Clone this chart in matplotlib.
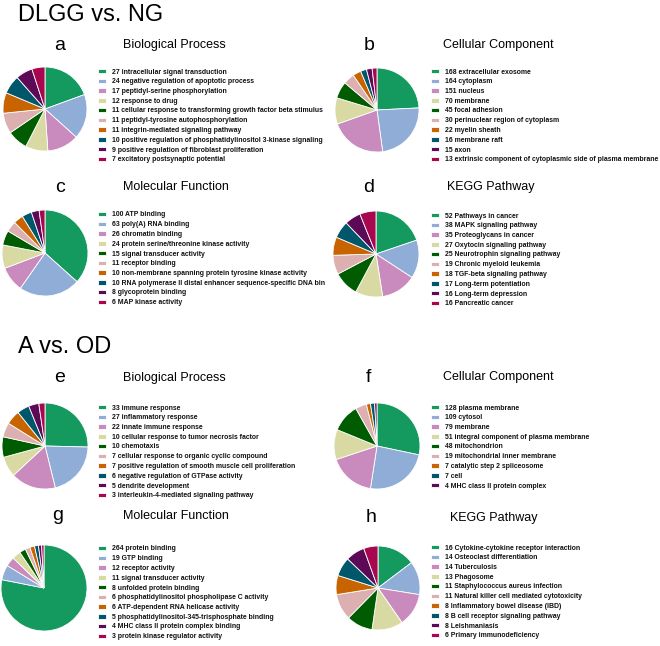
import matplotlib
matplotlib.use('Agg')
import matplotlib.pyplot as plt

plt.rcParams['font.family'] = ['Liberation Sans', 'DejaVu Sans']

# paleta comun de los sectores
colores = ['#14995f', '#8fadd6', '#c98bbd', '#d9d9a3', '#005c00',
           '#dcb0b0', '#c76400', '#00566b', '#5c0a57', '#a8074f']

# a) DLGG vs NG - Biological Process
bp1_n = [27, 24, 17, 12, 11, 11, 11, 10, 9, 7]
bp1_t = ['intracellular signal transduction',
         'negative regulation of apoptotic process',
         'peptidyl-serine phosphorylation',
         'response to drug',
         'cellular response to transforming growth factor beta stimulus',
         'peptidyl-tyrosine autophosphorylation',
         'integrin-mediated signaling pathway',
         'positive regulation of phosphatidylinositol 3-kinase signaling',
         'positive regulation of fibroblast proliferation',
         'excitatory postsynaptic potential']

# b) Cellular Component
cc1_n = [168, 164, 151, 70, 45, 30, 22, 16, 15, 13]
cc1_t = ['extracellular exosome', 'cytoplasm', 'nucleus', 'membrane',
         'focal adhesion', 'perinuclear region of cytoplasm', 'myelin sheath',
         'membrane raft', 'axon',
         'extrinsic component of cytoplasmic side of plasma membrane']

# c) Molecular Function
mf1_n = [100, 63, 26, 24, 15, 11, 10, 10, 8, 6]
mf1_t = ['ATP binding', 'poly(A) RNA binding', 'chromatin binding',
         'protein serine/threonine kinase activity',
         'signal transducer activity', 'receptor binding',
         'non-membrane spanning protein tyrosine kinase activity',
         'RNA polymerase II distal enhancer sequence-specific DNA bin',
         'glycoprotein binding', 'MAP kinase activity']

# d) KEGG
kg1_n = [52, 38, 35, 27, 25, 19, 18, 17, 16, 16]
kg1_t = ['Pathways in cancer', 'MAPK signaling pathway',
         'Proteoglycans in cancer', 'Oxytocin signaling pathway',
         'Neurotrophin signaling pathway', 'Chronic myeloid leukemia',
         'TGF-beta signaling pathway', 'Long-term potentiation',
         'Long-term depression', 'Pancreatic cancer']

# e) A vs OD - Biological Process
bp2_n = [33, 27, 22, 10, 10, 7, 7, 6, 5, 3]
bp2_t = ['immune response', 'inflammatory response', 'innate immune response',
         'cellular response to tumor necrosis factor', 'chemotaxis',
         'cellular response to organic cyclic compound',
         'positive regulation of smooth muscle cell proliferation',
         'negative regulation of GTPase activity', 'dendrite development',
         'interleukin-4-mediated signaling pathway']

# f) Cellular Component
cc2_n = [128, 109, 79, 51, 48, 19, 7, 7, 4]
cc2_t = ['plasma membrane', 'cytosol', 'membrane',
         'integral component of plasma membrane', 'mitochondrion',
         'mitochondrial inner membrane', 'catalytic step 2 spliceosome',
         'cell', 'MHC class II protein complex']

# g) Molecular Function
mf2_n = [264, 19, 12, 11, 8, 6, 6, 5, 4, 3]
mf2_t = ['protein binding', 'GTP binding', 'receptor activity',
         'signal transducer activity', 'unfolded protein binding',
         'phosphatidylinositol phospholipase C activity',
         'ATP-dependent RNA helicase activity',
         'phosphatidylinositol-345-trisphosphate binding',
         'MHC class II protein complex binding',
         'protein kinase regulator activity']

# h) KEGG
kg2_n = [16, 14, 14, 13, 11, 11, 8, 8, 8, 6]
kg2_t = ['Cytokine-cytokine receptor interaction', 'Osteoclast differentiation',
         'Tuberculosis', 'Phagosome', 'Staphylococcus aureus infection',
         'Natural killer cell mediated cytotoxicity',
         'Inflammatory bowel disease (IBD)', 'B cell receptor signaling pathway',
         'Leishmaniasis', 'Primary immunodeficiency']

W, H = 660, 646
fig = plt.figure(figsize=(W/100, H/100), dpi=100)

def fx(x):
    return x / W

def fy(y):
    return 1 - y / H

# (letra, titulo, datos, terminos, centro pie, radio, x leyenda, y leyenda, x letra, y letra, x titulo)
paneles = [
    ('a', 'Biological Process', bp1_n, bp1_t, (45, 109), 42, 98, 73, 60, 45, 174),
    ('b', 'Cellular Component', cc1_n, cc1_t, (377, 110), 42, 431, 73, 369, 45, 498),
    ('c', 'Molecular Function', mf1_n, mf1_t, (45, 253), 43, 98, 216, 60, 187, 176),
    ('d', 'KEGG Pathway', kg1_n, kg1_t, (376, 254), 43, 431, 217, 369, 187, 491),
    ('e', 'Biological Process', bp2_n, bp2_t, (45, 446), 43, 98, 409, 60, 378, 174),
    ('f', 'Cellular Component', cc2_n, cc2_t, (377, 446), 43, 431, 409, 368, 377, 498),
    ('g', 'Molecular Function', mf2_n, mf2_t, (44, 588), 43, 98, 550, 58, 516, 176),
    ('h', 'KEGG Pathway', kg2_n, kg2_t, (378, 588), 42, 431, 549, 371, 518, 494),
]

for letra, titulo, n, t, (cx, cy), r, lx, ly, tx, ty, ttx in paneles:
    ax = fig.add_axes([fx(cx - r), fy(cy + r), 2*r/W, 2*r/H])
    wedges, _ = ax.pie(n, colors=colores[:len(n)], startangle=90, counterclock=False,
                       wedgeprops=dict(edgecolor='white', linewidth=0.6))
    ax.set_xlim(-1.0, 1.0)
    ax.set_ylim(-1.0, 1.0)
    etiquetas = [str(v) + ' ' + s for v, s in zip(n, t)]
    leg = ax.legend(wedges, etiquetas, loc='upper left',
                    bbox_to_anchor=(fx(lx), fy(ly - 4.5)), bbox_transform=fig.transFigure,
                    frameon=False, borderpad=0, borderaxespad=0,
                    prop=dict(family='Liberation Sans', weight='bold', size=4.95),
                    handlelength=1.1, handleheight=0.6, handletextpad=0.9,
                    labelspacing=0.4)
    for txt in leg.get_texts():
        txt.set_color('#111111')
    fig.text(fx(tx), fy(ty), letra, fontsize=14, ha='center', va='center')
    fig.text(fx(ttx), fy(ty), titulo, fontsize=9, ha='center', va='center')

fig.text(fx(18), fy(21), 'DLGG vs. NG', fontsize=17, ha='left', va='baseline')
fig.text(fx(18), fy(353), 'A vs. OD', fontsize=17, ha='left', va='baseline')

fig.savefig('out.png', dpi=100)
